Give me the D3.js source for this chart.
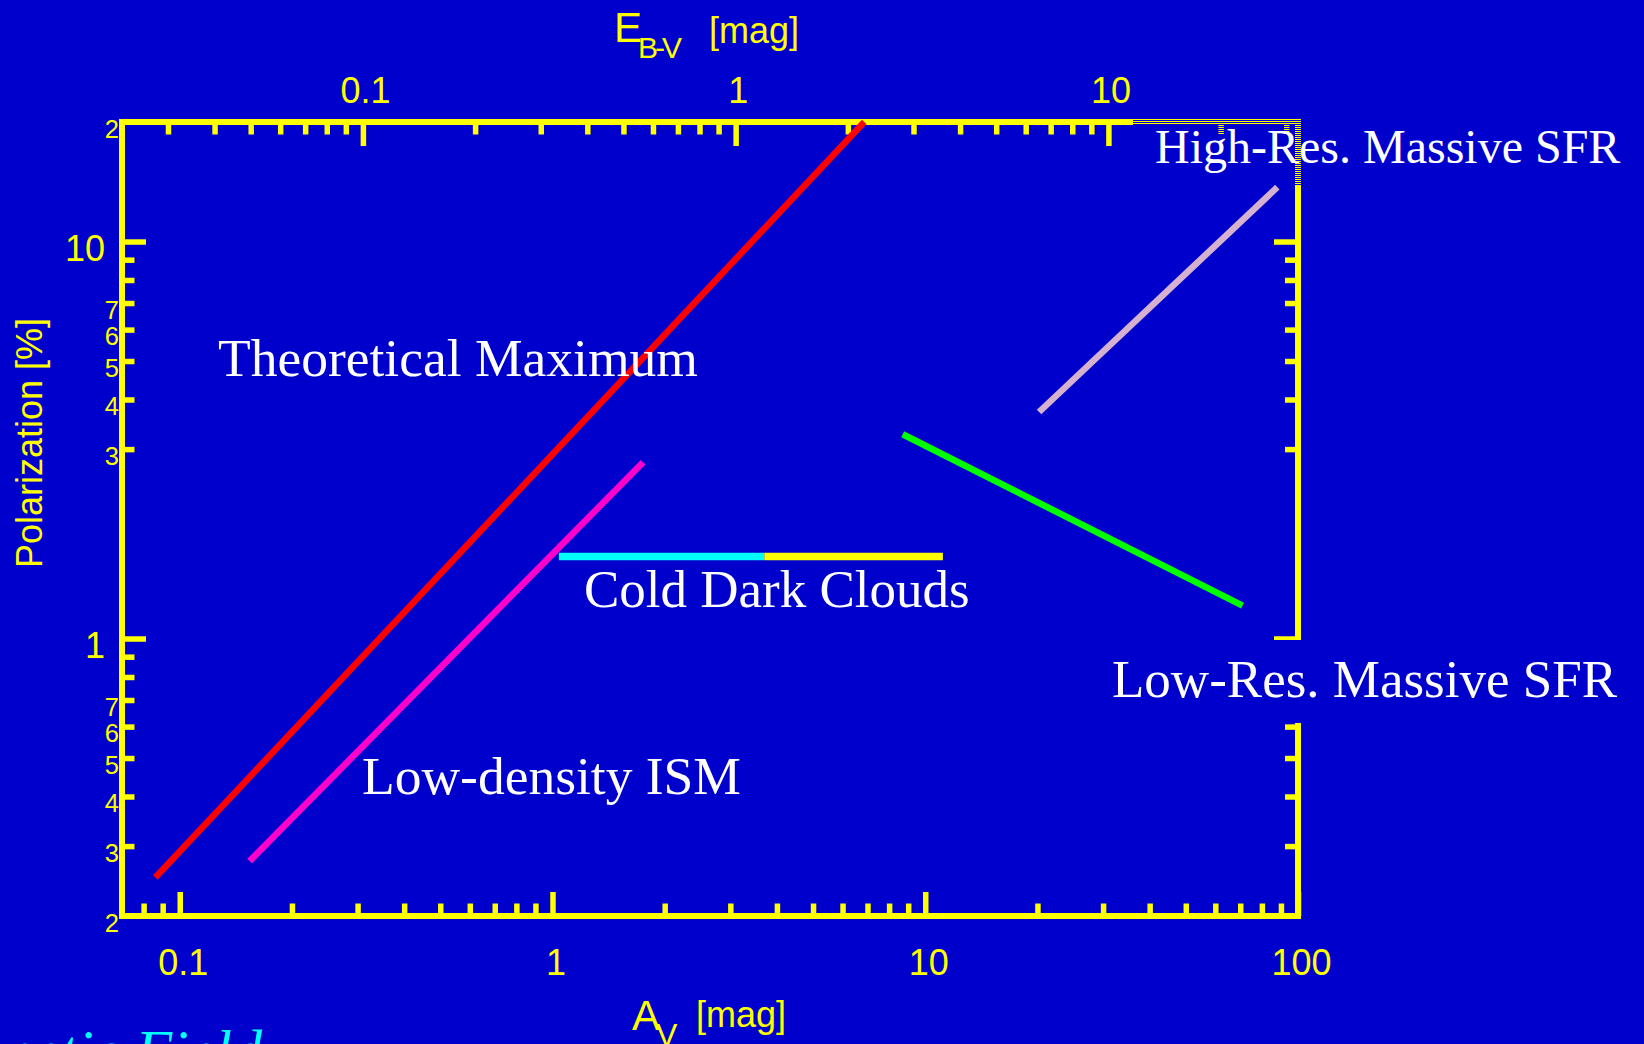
<!DOCTYPE html>
<html>
<head>
<meta charset="utf-8">
<script src="https://cdn.jsdelivr.net/npm/d3@7"></script>
<style>
  html, body { margin: 0; padding: 0; background: #0000cc; }
  svg { display: block; }
</style>
</head>
<body>
<svg id="chart" width="1644" height="1044"></svg>
<script>
// ---- data ----------------------------------------------------------------
// Polarization (%) versus visual extinction A_V (mag), each regime as a segment.
const seriesNames = [
  "Theoretical Maximum",
  "Low-density ISM",
  "Cold Dark Clouds",
  "Cold Dark Clouds (high extinction)",
  "Low-Res. Massive SFR",
  "High-Res. Massive SFR"
];
const seriesAv = [
  [0.086, 6.86],
  [0.154, 1.75],
  [1.04, 3.7],
  [3.7, 11.15],
  [8.7, 71],
  [20.2, 88]
];
const seriesP = [
  [0.25, 20],
  [0.275, 2.78],
  [1.61, 1.61],
  [1.61, 1.61],
  [3.27, 1.21],
  [3.72, 13.7]
];

// Ratio of total to selective extinction, A_V = R_V * E(B-V)
const rV = 3.1;

// bottom axis: A_V [mag]
const avMajorTicks = [0.1, 1, 10, 100];
const avMajorLabels = ["0.1", "1", "10", "100"];
const avMinorTicks = [0.08, 0.09, 0.2, 0.3, 0.4, 0.5, 0.6, 0.7, 0.8, 0.9,
                      2, 3, 4, 5, 6, 7, 8, 9, 20, 30, 40, 50, 60, 70, 80, 90];

// top axis: E(B-V) [mag]
const ebvMajorTicks = [0.1, 1, 10];
const ebvMajorLabels = ["0.1", "1", "10"];
const ebvMinorTicks = [0.03, 0.04, 0.05, 0.06, 0.07, 0.08, 0.09,
                       0.2, 0.3, 0.4, 0.5, 0.6, 0.7, 0.8, 0.9,
                       2, 3, 4, 5, 6, 7, 8, 9, 20, 30];

// vertical axis: Polarization [%]
const polMajorTicks = [1, 10];
const polMajorLabels = ["1", "10"];
const polMinorTicks = [0.3, 0.4, 0.5, 0.6, 0.7, 0.8, 0.9, 3, 4, 5, 6, 7, 8, 9];
const polMinorLabelValues = [20, 7, 6, 5, 4, 3, 0.7, 0.6, 0.5, 0.4, 0.3, 0.2];
const polMinorLabels = ["2", "7", "6", "5", "4", "3", "7", "6", "5", "4", "3", "2"];

// ---- styling -------------------------------------------------------------
const BG = "#0000cc";
const AXIS = "#ffff00";
const seriesColors = ["#ff0000", "#ff00cc", "#00ffff", "#ffff00", "#00ff00", "#d6b0cf"];
const seriesWidths = [6.5, 6.5, 7.5, 7.5, 6.5, 6.5];
const SANS = "'Liberation Sans', Arial, sans-serif";
const SERIF = "'Liberation Serif', 'Times New Roman', serif";

const svg = d3.select("#chart");
svg.append("rect").attr("width", 1644).attr("height", 1044).attr("fill", BG);

const plotLeft = 122, plotRight = 1298, plotTop = 122, plotBottom = 916;

const x = d3.scaleLog().domain([0.07, 100]).range([plotLeft, plotRight]);
const xE = d3.scaleLog().domain([0.07 / rV, 100 / rV]).range([plotLeft, plotRight]);
const y = d3.scaleLog().domain([0.2, 20]).range([plotBottom, plotTop]);

// stripe pattern used behind the upper-right label
const defs = svg.append("defs");
const pat = defs.append("pattern")
  .attr("id", "stripes")
  .attr("patternUnits", "userSpaceOnUse")
  .attr("width", 4).attr("height", 2);
pat.append("rect").attr("x", 0).attr("y", 0).attr("width", 4).attr("height", 1).attr("fill", BG);

// ---- frame ---------------------------------------------------------------
svg.append("rect")
  .attr("x", plotLeft).attr("y", plotTop)
  .attr("width", plotRight - plotLeft).attr("height", plotBottom - plotTop)
  .attr("fill", "none")
  .attr("stroke", AXIS)
  .attr("stroke-width", 6);

function tidy(g, fontSize) {
  g.select(".domain").remove();
  g.attr("font-family", SANS).attr("font-size", fontSize);
  g.selectAll(".tick line").attr("stroke", AXIS).attr("stroke-width", 5.5);
  g.selectAll(".tick text").attr("fill", AXIS);
}

const labelOf = (vals, labels) => d => labels[vals.indexOf(d)];

// bottom axis (A_V)
svg.append("g").attr("transform", `translate(0,${plotBottom})`)
  .call(d3.axisBottom(x).tickValues(avMinorTicks).tickSize(-12.5).tickFormat(() => ""))
  .call(g => tidy(g, 36));
svg.append("g").attr("transform", `translate(0,${plotBottom})`)
  .call(d3.axisBottom(x).tickValues(avMajorTicks).tickSize(-24)
    .tickFormat(labelOf(avMajorTicks, avMajorLabels)))
  .call(g => {
    tidy(g, 36);
    g.selectAll(".tick text").attr("y", 59).attr("dy", 0).attr("dx", 3);
  });

// top axis (E(B-V))
svg.append("g").attr("transform", `translate(0,${plotTop})`)
  .call(d3.axisTop(xE).tickValues(ebvMinorTicks).tickSize(-12.5).tickFormat(() => ""))
  .call(g => tidy(g, 36));
svg.append("g").attr("transform", `translate(0,${plotTop})`)
  .call(d3.axisTop(xE).tickValues(ebvMajorTicks).tickSize(-24)
    .tickFormat(labelOf(ebvMajorTicks, ebvMajorLabels)))
  .call(g => {
    tidy(g, 36);
    g.selectAll(".tick text").attr("y", -19).attr("dy", 0).attr("dx", 2);
  });

// left axis (polarization)
svg.append("g").attr("transform", `translate(${plotLeft},0)`)
  .call(d3.axisLeft(y).tickValues(polMinorTicks).tickSize(-12.5).tickFormat(() => ""))
  .call(g => tidy(g, 24));
svg.append("g").attr("transform", `translate(${plotLeft},0)`)
  .call(d3.axisLeft(y).tickValues(polMajorTicks).tickSize(-24)
    .tickFormat(labelOf(polMajorTicks, polMajorLabels)))
  .call(g => {
    tidy(g, 36);
    g.selectAll(".tick text").attr("x", -17).attr("dy", 18.5);
  });
svg.append("g").attr("transform", `translate(${plotLeft},0)`)
  .call(d3.axisLeft(y).tickValues(polMinorLabelValues).tickSize(0)
    .tickFormat(labelOf(polMinorLabelValues, polMinorLabels)))
  .call(g => {
    tidy(g, 25.5);
    g.selectAll(".tick line").remove();
    g.selectAll(".tick text").attr("x", -3).attr("dy", 15);
  });

// right axis (polarization, unlabeled)
svg.append("g").attr("transform", `translate(${plotRight},0)`)
  .call(d3.axisRight(y).tickValues(polMinorTicks).tickSize(-13).tickFormat(() => ""))
  .call(g => tidy(g, 24));
svg.append("g").attr("transform", `translate(${plotRight},0)`)
  .call(d3.axisRight(y).tickValues(polMajorTicks).tickSize(-24).tickFormat(() => ""))
  .call(g => tidy(g, 24));

// ---- axis titles ---------------------------------------------------------
const eTitle = svg.append("text").attr("font-family", SANS).attr("fill", AXIS).attr("y", 42);
eTitle.append("tspan").attr("x", 614).attr("font-size", 42).text("E");
eTitle.append("tspan").attr("x", 638).attr("y", 58).attr("font-size", 30)
  .attr("letter-spacing", -3).text("B-V");
eTitle.append("tspan").attr("x", 709).attr("y", 43).attr("font-size", 36).text("[mag]");

const aTitle = svg.append("text").attr("font-family", SANS).attr("fill", AXIS).attr("y", 1030);
aTitle.append("tspan").attr("x", 632).attr("font-size", 42).text("A");
aTitle.append("tspan").attr("x", 656).attr("y", 1046).attr("font-size", 32).text("V");
aTitle.append("tspan").attr("x", 696).attr("y", 1027).attr("font-size", 36).text("[mag]");

svg.append("text")
  .attr("transform", "translate(42,443) rotate(-90)")
  .attr("text-anchor", "middle")
  .attr("font-family", SANS).attr("font-size", 36).attr("fill", AXIS)
  .text("Polarization [%]");

// ---- regime segments -----------------------------------------------------
const line = d3.line().x(d => x(d[0])).y(d => y(d[1]));
svg.append("g").selectAll("path")
  .data(seriesNames.map((name, i) => ({
    name,
    pts: seriesAv[i].map((a, j) => [a, seriesP[i][j]]),
    color: seriesColors[i],
    width: seriesWidths[i]
  })))
  .join("path")
  .attr("d", d => line(d.pts))
  .attr("fill", "none")
  .attr("stroke", d => d.color)
  .attr("stroke-width", d => d.width)
  .attr("stroke-linecap", "butt");

// ---- label backdrops -----------------------------------------------------
svg.append("rect").attr("x", 1133).attr("y", 117).attr("width", 511).attr("height", 68)
  .attr("fill", "url(#stripes)");
svg.append("rect").attr("x", 1105).attr("y", 640).attr("width", 539).attr("height", 83)
  .attr("fill", BG);

// ---- regime labels -------------------------------------------------------
const regimeLabels = [
  { text: "Theoretical Maximum", x: 218, y: 376, size: 53.5 },
  { text: "Low-density ISM", x: 362, y: 794, size: 53.5 },
  { text: "Cold Dark Clouds", x: 584, y: 607, size: 53 },
  { text: "High-Res. Massive SFR", x: 1155, y: 163, size: 48 },
  { text: "Low-Res. Massive SFR", x: 1112, y: 697, size: 53 }
];
svg.append("g").selectAll("text")
  .data(regimeLabels)
  .join("text")
  .attr("x", d => d.x).attr("y", d => d.y)
  .attr("font-family", SERIF).attr("font-size", d => d.size)
  .attr("fill", "#ffffff")
  .text(d => d.text);

// slide heading running off the lower edge
svg.append("text")
  .attr("x", 262).attr("y", 1071)
  .attr("text-anchor", "end")
  .attr("font-family", SERIF).attr("font-style", "italic").attr("font-size", 60)
  .attr("fill", "#00ffff")
  .text("Magnetic Field");
</script>
</body>
</html>
